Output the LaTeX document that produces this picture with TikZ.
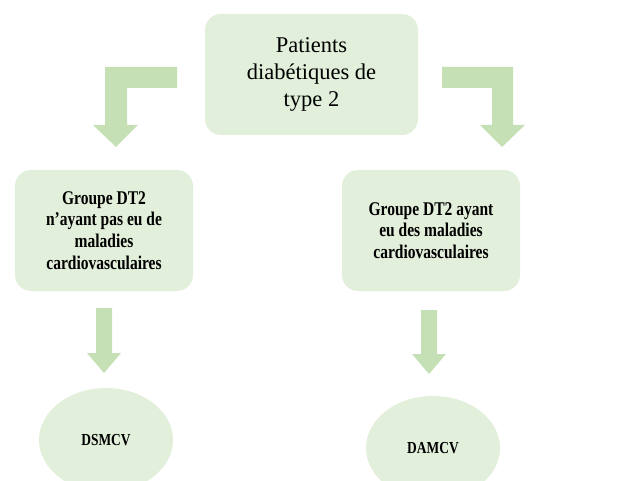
\documentclass[tikz,border=0pt]{standalone}
\usepackage{fontspec}
\setmainfont{Liberation Serif}
\newfontfamily\narrowserif[FakeStretch=0.8]{Liberation Serif}
\usetikzlibrary{shapes.geometric}

\definecolor{boxgreen}{HTML}{E2EFDA}
\definecolor{arrowgreen}{HTML}{C5E0B4}

\tikzset{
    groupbox/.style={fill=boxgreen, rounded corners=16pt, align=center, inner sep=0pt,
        minimum width=178pt, minimum height=121pt,
        font=\narrowserif\fontsize{19.4}{21.7}\selectfont\bfseries},
    resultnode/.style={ellipse, fill=boxgreen, inner sep=0pt, minimum width=134pt,
        minimum height=104pt, font=\narrowserif\fontsize{16.8}{18}\selectfont\bfseries},
    blockarrow/.style={fill=arrowgreen}
}

\begin{document}
\begin{tikzpicture}[x=1pt, y=-1pt]
    \useasboundingbox (0,0) rectangle (624,481);
    \clip (0,0) rectangle (624,481);

    % Top box
    \node[fill=boxgreen, rounded corners=16pt, align=center, inner sep=0pt,
        minimum width=213pt, minimum height=121pt,
        font=\fontsize{22.5}{27}\selectfont] (patients) at (311.5,74.5)
        {Patients\\diabétiques de\\type 2};

    % Groups
    \node[groupbox] (sansmcv) at (104,230.5)
        {Groupe DT2\\n’ayant pas eu de\\maladies\\cardiovasculaires};
    \node[groupbox] (avecmcv) at (431,230.5)
        {Groupe DT2 ayant\\eu des maladies\\cardiovasculaires};

    % Results
    \node[resultnode] (dsmcv) at (106,440) {DSMCV};
    \node[resultnode] (damcv) at (433,448) {DAMCV};

    % Bent arrows from the top box
    \fill[blockarrow] (177,67) -- (105,67) -- (105,125) -- (93,125) -- (116,147)
        -- (138,125) -- (127,125) -- (127,88) -- (177,88) -- cycle;
    \fill[blockarrow] (442,67) -- (513,67) -- (513,125) -- (525,125) -- (502,147)
        -- (480,125) -- (492,125) -- (492,88) -- (442,88) -- cycle;

    % Down arrows to the results
    \fill[blockarrow] (96,308) -- (112,308) -- (112,353) -- (121,353) -- (104,373)
        -- (87,353) -- (96,353) -- cycle;
    \fill[blockarrow] (421,310) -- (437,310) -- (437,354) -- (446,354) -- (429,374)
        -- (412,354) -- (421,354) -- cycle;

\end{tikzpicture}
\end{document}
